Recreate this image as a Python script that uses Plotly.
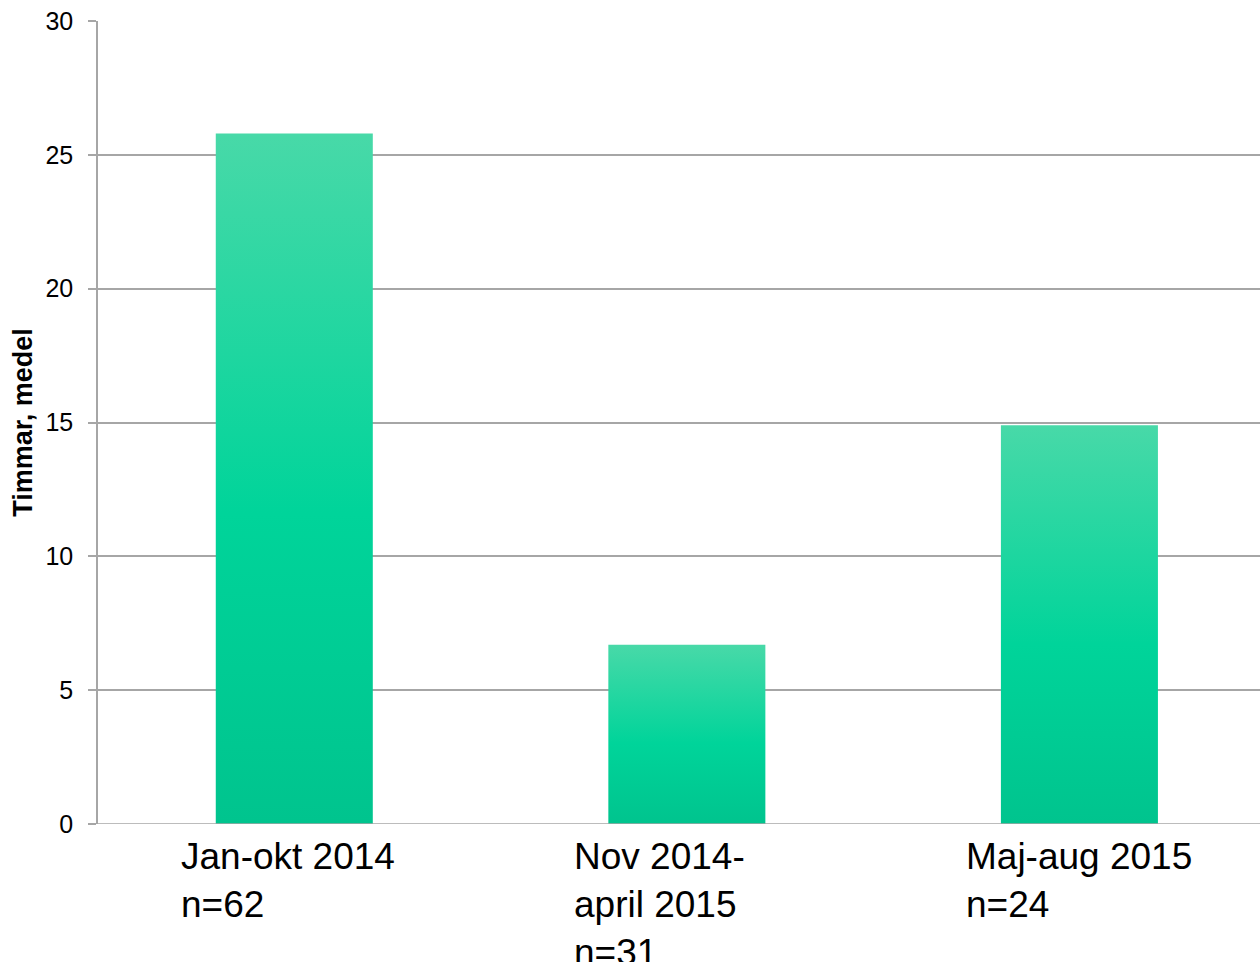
import plotly.graph_objects as go

# Data
categories = ["Jan-okt 2014<br>n=62", "Nov 2014-<br>april 2015<br>n=31", "Maj-aug 2015<br>n=24"]
values = [25.8, 6.7, 14.9]
y_ticks = [0, 5, 10, 15, 20, 25, 30]

bar_width = 0.40
gradient = [[0, "#00c48e"], [0.45, "#00d49a"], [1, "#48d9a8"]]
grey = "#a6a6a6"

fig = go.Figure()

# each bar as a filled polygon so it can carry a vertical gradient
for i, v in enumerate(values):
    x0, x1 = i - bar_width / 2, i + bar_width / 2
    fig.add_trace(go.Scatter(
        x=[x0, x1, x1, x0, x0],
        y=[0, 0, v, v, 0],
        mode="lines",
        line=dict(width=0),
        fill="toself",
        fillgradient=dict(type="vertical", colorscale=gradient),
        hoverinfo="skip",
        showlegend=False,
    ))

# category labels, left-aligned multi-line text under each bar
for i, label in enumerate(categories):
    fig.add_annotation(
        x=i, y=0, xref="x", yref="paper",
        text=label, showarrow=False,
        xanchor="left", yanchor="top", align="left",
        xshift=-115, yshift=-10,
        font=dict(size=37, color="#000000", family="Liberation Sans, Arial"),
    )

fig.update_layout(
    width=1260, height=962,
    margin=dict(l=98, r=0, t=21, b=138),
    paper_bgcolor="white",
    plot_bgcolor="white",
    font=dict(family="Liberation Sans, Arial", color="#000000"),
    xaxis=dict(
        range=[-0.5, 2.46],
        showticklabels=False,
        showgrid=False,
        zeroline=False,
        showline=False,
        fixedrange=True,
    ),
    yaxis=dict(
        range=[0, 30],
        tickvals=y_ticks,
        tickfont=dict(size=25),
        showgrid=True,
        gridcolor=grey,
        gridwidth=1.5,
        zeroline=False,
        showline=True,
        linecolor=grey,
        linewidth=1.5,
        ticks="outside",
        ticklen=8,
        tickcolor=grey,
        tickwidth=1.5,
        ticklabelstandoff=10,
        automargin=False,
        title=dict(text="<b>Timmar, medel</b>", font=dict(size=27), standoff=5),
    ),
)

# bottom axis line
fig.add_shape(type="line", xref="paper", yref="y", x0=0, x1=1, y0=0, y1=0,
              line=dict(color=grey, width=1.5))

# drop the default page margin so the figure sits at the window's corner
fig.write_html("out.html", config={"displayModeBar": False},
               post_script="document.body.style.margin = '0';")
